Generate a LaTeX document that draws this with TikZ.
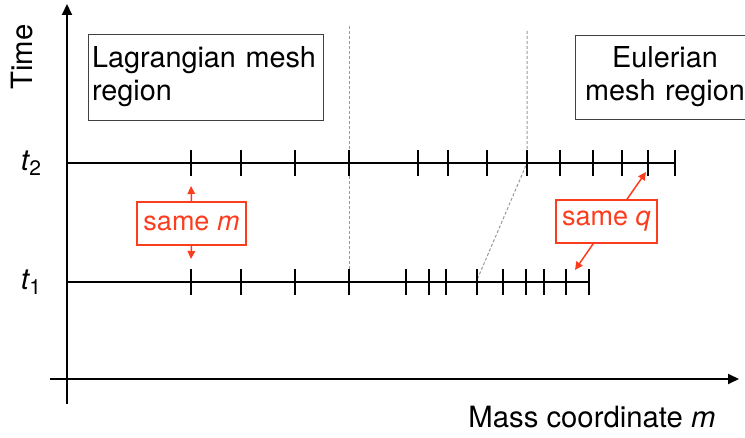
\documentclass[tikz,border=0pt]{standalone}
\usepackage{fontspec}
\setmainfont{TeX Gyre Heros}
\usetikzlibrary{arrows.meta,calc}
\definecolor{myred}{RGB}{252,60,30}
\begin{document}
\begin{tikzpicture}[x=1pt,y=-1pt,
  axis/.style={line width=2pt},
  tline/.style={line width=1.6pt},
  tickmark/.style={line width=1.4pt},
  guide/.style={black!40, line width=1pt, dash pattern=on 3pt off 2pt},
  regionbox/.style={draw=black!75, line width=0.8pt, font=\fontsize{28.8}{33}\selectfont, inner sep=4pt},
  redbox/.style={draw=myred, line width=1.5pt, text=myred, font=\fontsize{27}{30}\selectfont, inner sep=2pt},
  redarrow/.style={myred, line width=1.5pt, -{Triangle[length=8pt,width=7.5pt]}},
  lbl/.style={font=\fontsize{29.3}{32}\selectfont}]
\useasboundingbox (0,0) rectangle (745,438);
\clip (0,0) rectangle (745,438);

% axes
\coordinate (ytop) at (67,4);
\coordinate (ybot) at (67,404);
\coordinate (xleft) at (50,379);
\coordinate (xright) at (739,379);
\draw[axis,-{Triangle[length=11pt,width=10pt]}] (ybot) -- (ytop);
\draw[axis,-{Triangle[length=11pt,width=10pt]}] (xleft) -- (xright);

% guide lines
\coordinate (g1top) at (349,26);
\coordinate (g1bot) at (349,270);
\coordinate (g2top) at (527,31);
\coordinate (g2mid) at (527,163);
\coordinate (g2bot) at (477,280);
\draw[guide] (g1top) -- (g1bot);
\draw[guide] (g2top) -- (g2mid) -- (g2bot);

% time lines
\coordinate (t2s) at (67,163);
\coordinate (t2e) at (675,163);
\coordinate (t1s) at (67,282);
\coordinate (t1e) at (589,282);
\draw[tline] (t2s) -- (t2e);
\draw[tline] (t1s) -- (t1e);
\foreach \x in {191,241,295,349,418,448,487,527,560,593,622,648,675}
  \draw[tickmark] (\x,150) -- (\x,176);
\foreach \x in {191,241,295,349,406,429,446,477,503,526,544,566,589}
  \draw[tickmark] (\x,269) -- (\x,295);

% labels
\node[lbl] (timelab) at (22,57) [rotate=90] {Time};
\node[lbl] (t2lab) at (31,163) {\itshape t\kern0.5pt\raisebox{-5pt}{\upshape\fontsize{21}{21}\selectfont 2}};
\node[lbl] (t1lab) at (31,282) {\itshape t\kern0.5pt\raisebox{-5pt}{\upshape\fontsize{21}{21}\selectfont 1}};
\node[lbl, anchor=east] (xlab) at (719,417) {Mass coordinate \textit{m}};

% region boxes
\node[regionbox, text width=227pt, minimum height=86pt, align=left] (lag) at (205.5,77) {Lagrangian mesh\\region};
\node[regionbox, text width=172pt, minimum height=84pt, align=center] (eul) at (665,77) {Eulerian\\mesh region};

% same m
\node[redbox, minimum width=109pt, minimum height=43pt] (samem) at (191.5,223.5) {same \textit{m}};
\coordinate (mup) at (191,186);
\coordinate (mdown) at (191,259);
\draw[redarrow] (samem.north) -- (mup);
\draw[redarrow] (samem.south) -- (mdown);

% same q
\node[redbox, minimum width=101pt, minimum height=43pt] (sameq) at (606.5,221.5) {same \textit{q}};
\coordinate (qup) at (646,172);
\coordinate (qdown) at (575,270);
\draw[redarrow] ($(sameq.north west)!0.70!(sameq.north east)$) -- (qup);
\draw[redarrow] ($(sameq.south west)!0.37!(sameq.south east)$) -- (qdown);
\end{tikzpicture}
\end{document}
